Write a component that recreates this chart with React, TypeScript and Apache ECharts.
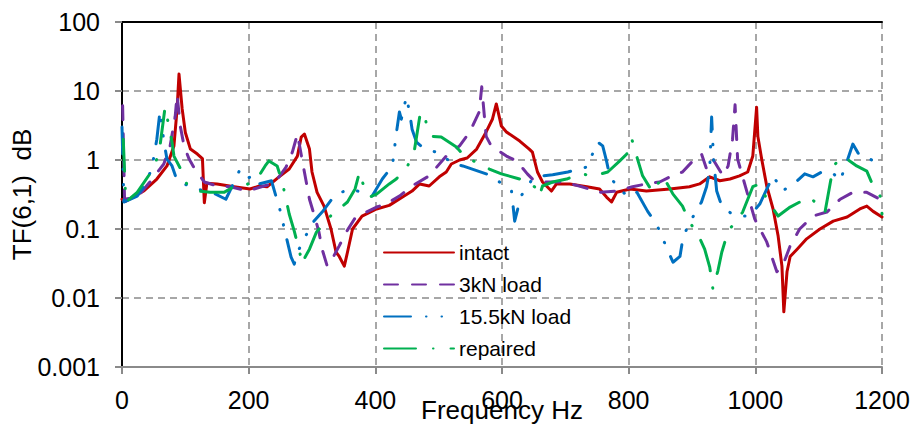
import React, { useEffect, useRef } from "react";
import * as echarts from "echarts";

// ---- data (frequency Hz, TF value) ----
const seriesNames = ["intact", "3kN load", "15.5kN load", "repaired"];
const xTickLabels = ["0", "200", "400", "600", "800", "1000", "1200"];
const yTickLabels = ["0.001", "0.01", "0.1", "1", "10", "100"];

const intact: [number, number][] = [
  [0, 0.27], [5, 0.25], [35, 0.36], [55, 0.53], [71, 0.82], [82, 1.6], [87, 5.5], [90, 17.6], [95, 5.5],
  [100, 2.5], [108, 1.44], [119, 1.22], [127, 1.05], [130, 0.24], [134, 0.46], [150, 0.45], [177, 0.41],
  [202, 0.38], [217, 0.42], [229, 0.41], [248, 0.57], [264, 0.74], [277, 1.14], [283, 2.15], [288, 2.38],
  [296, 1.44], [300, 0.67], [308, 0.34], [319, 0.215], [330, 0.1], [338, 0.046], [343, 0.04], [351, 0.029],
  [356, 0.046], [364, 0.1], [379, 0.154], [402, 0.195], [422, 0.22], [443, 0.29], [458, 0.355], [470, 0.45],
  [485, 0.42], [501, 0.57], [512, 0.67], [520, 0.875], [533, 1.0], [545, 1.07], [560, 1.44], [575, 2.55],
  [585, 3.93], [591, 6.5], [599, 3.1], [607, 2.55], [628, 1.88], [643, 1.44], [648, 1.3], [656, 0.67],
  [664, 0.48], [678, 0.355], [686, 0.45], [707, 0.45], [734, 0.41], [754, 0.38], [765, 0.29], [773, 0.246],
  [781, 0.34], [802, 0.38], [828, 0.355], [865, 0.38], [896, 0.41], [912, 0.45], [928, 0.57], [944, 0.5],
  [960, 0.53], [975, 0.59], [988, 0.67], [996, 1.14], [1002, 5.8], [1004, 2.2], [1010, 1.03], [1018, 0.42],
  [1028, 0.195], [1036, 0.079], [1042, 0.029], [1045, 0.0063], [1050, 0.024], [1055, 0.04], [1066, 0.051],
  [1081, 0.072], [1102, 0.1], [1123, 0.13], [1145, 0.149], [1165, 0.195], [1176, 0.215], [1186, 0.18],
  [1200, 0.149],
];

const load3kN: [number, number][] = [
  [1, 6.1], [4, 0.27], [24, 0.29], [44, 0.48], [66, 0.875], [76, 1.6], [84, 4.3], [87, 8.8], [92, 3.1],
  [98, 1.6], [106, 1.03], [115, 0.74], [130, 0.48], [150, 0.42], [171, 0.41], [198, 0.355], [224, 0.42],
  [237, 0.45], [248, 0.57], [259, 0.79], [269, 1.3], [277, 2.38], [288, 0.67], [296, 0.27], [304, 0.154],
  [311, 0.09], [316, 0.051], [324, 0.029], [332, 0.037], [343, 0.057], [354, 0.09], [367, 0.14], [386, 0.176],
  [402, 0.208], [417, 0.23], [438, 0.3], [458, 0.42], [485, 0.59], [512, 1.14], [533, 1.6], [549, 2.55],
  [564, 4.97], [568, 11.5], [575, 2.2], [583, 1.6], [607, 1.14], [623, 0.97], [640, 0.63], [648, 0.53],
  [670, 0.48], [696, 0.48], [722, 0.42], [754, 0.34], [781, 0.355], [806, 0.41], [828, 0.45], [849, 0.48],
  [865, 0.57], [885, 0.67], [904, 1.03], [915, 1.22], [923, 0.74], [933, 1.03], [949, 0.59], [957, 0.82],
  [964, 2.0], [968, 6.3], [972, 1.03], [987, 0.34], [999, 0.14], [1018, 0.065], [1034, 0.024], [1043, 0.029],
  [1055, 0.057], [1070, 0.1], [1091, 0.154], [1113, 0.176], [1134, 0.27], [1154, 0.34], [1176, 0.34],
  [1197, 0.27],
];

const load15kN: [number, number][] = [
  [0, 3.0], [3, 0.246], [24, 0.3], [35, 0.42], [47, 0.74], [55, 2.0], [60, 5.1], [66, 1.9], [71, 1.03],
  [79, 0.82], [87, 0.5], [117, 0.38], [142, 0.34], [164, 0.27], [174, 0.42], [185, 0.69], [193, 0.53],
  [209, 0.59], [217, 0.45], [236, 0.5], [243, 0.3], [248, 0.215], [259, 0.079], [267, 0.039], [272, 0.031],
  [277, 0.046], [288, 0.072], [299, 0.118], [316, 0.176], [335, 0.3], [346, 0.34], [362, 0.38], [378, 0.34],
  [395, 0.3], [411, 0.53], [427, 0.82], [433, 2.38], [438, 4.97], [441, 3.9], [449, 8.2], [454, 4.97],
  [458, 2.8], [465, 1.82], [474, 1.54], [482, 1.44], [504, 1.22], [522, 0.875], [538, 0.82], [575, 0.63],
  [596, 0.48], [615, 0.355], [620, 0.13], [630, 0.3], [648, 0.53], [664, 0.59], [680, 0.61], [704, 0.67],
  [734, 0.79], [751, 1.82], [759, 1.6], [765, 0.97], [770, 0.59], [781, 0.42], [791, 0.34], [802, 0.29],
  [813, 0.34], [830, 0.18], [844, 0.118], [854, 0.072], [870, 0.033], [881, 0.04], [885, 0.067], [893, 0.11],
  [915, 0.246], [923, 0.41], [928, 0.74], [931, 4.2], [934, 1.03], [939, 0.355], [947, 0.215], [963, 0.165],
  [975, 0.154], [991, 0.154], [1007, 0.23], [1028, 0.59], [1043, 0.355], [1066, 0.5], [1078, 0.63],
  [1091, 0.57], [1105, 0.67], [1121, 0.67], [1134, 0.5], [1146, 1.03], [1154, 1.7], [1165, 1.14],
  [1181, 1.03], [1197, 0.875],
];

const repaired: [number, number][] = [
  [2, 2.0], [6, 0.246], [24, 0.34], [44, 0.63], [55, 1.03], [60, 1.6], [68, 5.8], [74, 3.1], [79, 1.82],
  [82, 1.14], [95, 0.67], [100, 0.53], [103, 0.42], [119, 0.355], [139, 0.34], [161, 0.34], [177, 0.41],
  [193, 0.42], [213, 0.53], [226, 0.82], [232, 0.97], [245, 0.82], [253, 0.48], [259, 0.27], [264, 0.165],
  [272, 0.093], [280, 0.048], [285, 0.031], [289, 0.039], [296, 0.051], [307, 0.09], [324, 0.14], [338, 0.18],
  [356, 0.246], [368, 0.38], [375, 0.67], [383, 0.38], [391, 0.29], [402, 0.32], [422, 0.45], [433, 0.53],
  [451, 0.82], [462, 1.44], [470, 4.2], [477, 5.0], [482, 2.8], [490, 2.2], [504, 2.15], [528, 1.54],
  [545, 1.03], [560, 0.935], [575, 0.79], [580, 0.74], [599, 0.63], [628, 0.53], [643, 0.48], [655, 0.38],
  [659, 0.3], [664, 0.42], [680, 0.48], [702, 0.53], [723, 0.63], [746, 0.59], [767, 0.67], [786, 0.97],
  [797, 1.22], [805, 2.0], [814, 1.03], [822, 0.59], [838, 0.34], [854, 0.59], [870, 0.32], [885, 0.215],
  [896, 0.126], [909, 0.085], [920, 0.051], [928, 0.028], [933, 0.0135], [941, 0.025], [947, 0.046],
  [957, 0.093], [972, 0.14], [980, 0.176], [996, 0.41], [1007, 0.45], [1018, 0.27], [1036, 0.154],
  [1055, 0.208], [1070, 0.246], [1086, 0.29], [1094, 0.246], [1105, 0.215], [1110, 0.176], [1118, 0.45],
  [1123, 0.79], [1134, 1.1], [1145, 1.03], [1160, 0.82], [1176, 0.69], [1186, 0.42], [1197, 0.3],
  [1200, 0.165],
];

const FONT = "'Liberation Sans', Arial, sans-serif";

export default function App() {
  const ref = useRef<HTMLDivElement>(null);
  useEffect(() => {
    if (!ref.current) return;
    const chart = echarts.init(ref.current, undefined, { renderer: "svg" });
    const gray = "#8a8a8a";
    const mk = (name: string, data: [number, number][], color: string, dash: any, z: number) => ({
      name,
      type: "line",
      data,
      symbol: "none",
      z,
      lineStyle: { color, width: 3, type: dash, cap: "round", join: "round" },
      itemStyle: { color },
    });
    chart.setOption({
      animation: false,
      textStyle: { fontFamily: FONT },
      grid: { left: 122, right: 32, top: 22, bottom: 60, outerBoundsMode: "none", containLabel: false },
      legend: {
        orient: "vertical",
        left: 378,
        top: 237,
        itemWidth: 70,
        itemHeight: 12,
        itemGap: 11,
        data: seriesNames,
        textStyle: { fontSize: 21, color: "#000", fontFamily: FONT },
        itemStyle: { opacity: 0 },
      },
      xAxis: [
        {
          type: "value",
          min: 0,
          max: 1200,
          interval: 200,
          name: "Frequency Hz",
          nameLocation: "middle",
          nameGap: 30,
          nameMoveOverlap: false,
          nameTextStyle: { fontSize: 26, color: "#000", fontFamily: FONT },
          axisLine: { lineStyle: { color: gray, width: 2 } },
          axisTick: { show: true, length: 7, lineStyle: { color: gray, width: 2 } },
          axisLabel: {
            fontSize: 25,
            color: "#000",
            margin: 20,
            fontFamily: FONT,
            formatter: (v: number) => xTickLabels[Math.round(v / 200)],
          },
          splitLine: { show: true, lineStyle: { color: gray, width: 1.5, type: [7, 5] } },
        },
        {
          type: "value",
          position: "top",
          min: 0,
          max: 1200,
          interval: 200,
          axisLine: { show: true, lineStyle: { color: "#000", width: 2 } },
          axisTick: { show: false },
          axisLabel: { show: false },
          splitLine: { show: false },
        },
      ],
      yAxis: [
        {
          type: "log",
          logBase: 10,
          min: 0.001,
          max: 100,
          name: "TF(6,1)  dB",
          nameLocation: "middle",
          nameGap: 87,
          nameMoveOverlap: false,
          nameTextStyle: { fontSize: 26, color: "#000", fontFamily: FONT },
          axisLine: { show: true, lineStyle: { color: gray, width: 2 } },
          axisTick: { show: true, length: 7, lineStyle: { color: gray, width: 2 } },
          axisLabel: {
            fontSize: 25,
            color: "#000",
            margin: 22,
            fontFamily: FONT,
            formatter: (v: number) => yTickLabels[Math.round(Math.log10(v)) + 3],
          },
          splitLine: { show: true, lineStyle: { color: gray, width: 1.5, type: [7, 5] } },
        },
        {
          type: "log",
          logBase: 10,
          min: 0.001,
          max: 100,
          position: "right",
          axisLine: { show: true, lineStyle: { color: "#000", width: 2 } },
          axisTick: { show: false },
          axisLabel: { show: false },
          splitLine: { show: false },
        },
      ],
      series: [
        mk(seriesNames[0], intact, "#C00000", "solid", 2),
        mk(seriesNames[1], load3kN, "#7030A0", [14, 14], 3),
        mk(seriesNames[2], load15kN, "#0070C0", [27, 15, 0.5, 15, 0.5, 15], 4),
        mk(seriesNames[3], repaired, "#00B050", [32, 17, 0.5, 17], 5),
      ],
    });
    return () => chart.dispose();
  }, []);
  return <div ref={ref} style={{ position: "absolute", left: 0, top: 0, width: 914, height: 427 }} />;
}
